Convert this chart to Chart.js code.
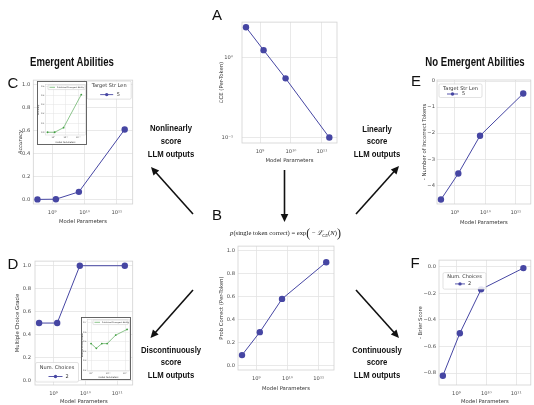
<!DOCTYPE html>
<html>
<head>
<meta charset="utf-8">
<script src="https://cdn.jsdelivr.net/npm/chart.js@4.4.1/dist/chart.umd.min.js"></script>
<style>
  html, body { margin: 0; padding: 0; background: #fff; }
  body { width: 534px; height: 405px; position: relative; overflow: hidden; }
  #stage canvas { position: absolute; }
  #arrows { position: absolute; left: 0; top: 0; }
  .letter { position: absolute; font-family: "Liberation Sans", Arial, sans-serif; font-size: 15px; line-height: 1; transform: translate(-50%, -50%); color: #111; }
  .head { position: absolute; font-family: "Liberation Sans", Arial, sans-serif; font-weight: bold; font-size: 12px; line-height: 1; transform: translate(-50%, -50%) scaleX(0.8); white-space: nowrap; color: #111; }
  .note { position: absolute; font-family: "Liberation Sans", Arial, sans-serif; font-weight: bold; font-size: 9.8px; line-height: 12.8px; text-align: center; transform: translate(-50%, -50%) scaleX(0.79); white-space: nowrap; color: #111; }
  .formula { position: absolute; font-family: "Liberation Serif", "DejaVu Serif", serif; font-size: 6.6px; transform: translate(-50%, -50%); white-space: nowrap; color: #222; }
  .formula .paren { font-size: 12px; vertical-align: -1.5px; }
  .formula sub { font-size: 4.5px; }
</style>
</head>
<body>
<div id="stage"></div>
<svg id="arrows" width="534" height="405"></svg>

<div class="head" style="left:72px;top:62px">Emergent Abilities</div>
<div class="head" style="left:475px;top:62px">No Emergent Abilities</div>

<div class="letter" style="left:217px;top:14px">A</div>
<div class="letter" style="left:217px;top:214px">B</div>
<div class="letter" style="left:13px;top:82px">C</div>
<div class="letter" style="left:13px;top:263px">D</div>
<div class="letter" style="left:416px;top:80px">E</div>
<div class="letter" style="left:415px;top:262px">F</div>

<div class="note" style="left:171px;top:141px">Nonlinearly<br>score<br>LLM outputs</div>
<div class="note" style="left:376.5px;top:141.5px">Linearly<br>score<br>LLM outputs</div>
<div class="note" style="left:171px;top:362.5px">Discontinuously<br>score<br>LLM outputs</div>
<div class="note" style="left:376.5px;top:362.5px">Continuously<br>score<br>LLM outputs</div>

<div class="formula" style="left:285.5px;top:233px"><i>p</i>(single token correct) = exp<span class="paren">(</span> − <i>ℒ</i><sub><i>CE</i></sub>(<i>N</i>)<span class="paren">)</span></div>

<script>
// Model sizes shared by every main panel (x axis)
const modelParams = [3.5e8, 1.3e9, 6.7e9, 1.75e11];

// Panel series
const crossEntropy = [2.4, 1.24, 0.55, 0.1];          // A
const probCorrect = [0.09, 0.29, 0.58, 0.9];           // B
const accuracy = [0.0, 0.002, 0.066, 0.61];            // C
const multipleChoiceGrade = [0.5, 0.5, 1.0, 1.0];      // D
const negIncorrectTokens = [-4.55, -3.55, -2.1, -0.48]; // E
const negBrierScore = [-0.82, -0.5, -0.17, -0.01];      // F

// Inset series (published emergent abilities)
const insetCParams = [3.5e8, 1.3e9, 6.7e9, 1.75e11];
const insetCAccuracy = [0.0, 0.0, 0.05, 0.41];
const insetDParams = [1e9, 2.05e9, 4.3e9, 8.8e9, 2.8e10, 1.3e11];
const insetDGrade = [0.48, 0.43, 0.48, 0.48, 0.57, 0.63];

// Tick values
const paramTicks = [1e9, 1e10, 1e11];
const lossTicks = [0.1, 1];
const unitTicks = [0, 0.2, 0.4, 0.6, 0.8, 1.0];
const tokenTicks = [-4, -3, -2, -1, 0];
const brierTicks = [-0.8, -0.6, -0.4, -0.2, 0];
const insetCTicks = [0, 0.1, 0.2, 0.3, 0.4, 0.5];
const insetDTicks = [0.2, 0.3, 0.4, 0.5, 0.6, 0.7];

const FONT = '"DejaVu Sans", sans-serif';
const BLUE = '#4646a3';
const GREEN = '#3f9d3f';
const GRID = '#e3e3e3';
const TICK = '#4a4a4a';

const SUP = { '0': '⁰', '1': '¹', '2': '²', '3': '³', '4': '⁴', '5': '⁵', '6': '⁶', '7': '⁷', '8': '⁸', '9': '⁹', '-': '⁻' };
function powLabel(v) {
  const p = String(Math.round(Math.log10(v)));
  return '10' + p.split('').map(c => SUP[c]).join('');
}
const minus = s => s.replace('-', '−');

// full box round the plot area (seaborn style spines)
const framePlugin = {
  id: 'frame',
  beforeDraw(chart, args, o) {
    if (!o.inset) return;
    const ctx = chart.ctx;
    ctx.save();
    ctx.fillStyle = '#fff';
    ctx.fillRect(0, 0, chart.width, chart.height);
    ctx.restore();
  },
  beforeDatasetsDraw(chart, args, o) {
    const a = chart.chartArea, ctx = chart.ctx;
    ctx.save();
    ctx.strokeStyle = o.color || '#d2d2d2';
    ctx.lineWidth = o.width || 0.8;
    ctx.strokeRect(a.left, a.top, a.right - a.left, a.bottom - a.top);
    ctx.restore();
  },
  afterDraw(chart, args, o) {
    if (!o.inset) return;
    const ctx = chart.ctx;
    ctx.save();
    ctx.strokeStyle = '#555';
    ctx.lineWidth = 0.9;
    ctx.strokeRect(0.5, 0.5, chart.width - 1, chart.height - 1);
    ctx.restore();
  }
};

// matplotlib-like framed legend with optional title
const boxLegendPlugin = {
  id: 'boxLegend',
  afterDraw(chart, args, o) {
    if (!o.show) return;
    const a = chart.chartArea, ctx = chart.ctx;
    const x = o.anchor.includes('r') ? a.right - o.dx - o.w : a.left + o.dx;
    const y = o.anchor.includes('b') ? a.bottom - o.dy - o.h : a.top + o.dy;
    const color = chart.data.datasets[0].borderColor;
    ctx.save();
    ctx.beginPath();
    ctx.roundRect(x, y, o.w, o.h, o.radius);
    ctx.fillStyle = 'rgba(255,255,255,0.85)';
    ctx.fill();
    ctx.strokeStyle = o.border;
    ctx.lineWidth = 0.6;
    ctx.stroke();
    ctx.font = o.size + 'px ' + FONT;
    ctx.textBaseline = 'middle';
    ctx.fillStyle = '#333';
    if (o.title) {
      ctx.textAlign = 'center';
      ctx.fillText(o.title, x + o.w / 2, y + o.titleY);
    }
    const iy = y + o.itemY;
    ctx.strokeStyle = color;
    ctx.lineWidth = o.lw;
    ctx.beginPath();
    ctx.moveTo(x + o.sx0, iy);
    ctx.lineTo(x + o.sx1, iy);
    ctx.stroke();
    ctx.fillStyle = color;
    ctx.beginPath();
    ctx.arc(x + (o.sx0 + o.sx1) / 2, iy, o.mr, 0, Math.PI * 2);
    ctx.fill();
    ctx.fillStyle = '#333';
    ctx.textAlign = 'left';
    ctx.fillText(o.label, x + o.lx, iy);
    ctx.restore();
  }
};

function makePanel(box, area, c) {
  const stage = document.getElementById('stage');
  const canvas = document.createElement('canvas');
  const w = box[2] - box[0], h = box[3] - box[1];
  canvas.width = w;
  canvas.height = h;
  canvas.style.left = box[0] + 'px';
  canvas.style.top = box[1] + 'px';
  canvas.style.width = w + 'px';
  canvas.style.height = h + 'px';
  stage.appendChild(canvas);

  const yW = area[0] - box[0];
  const xH = box[3] - area[3];
  const tickFont = { family: FONT, size: c.tickSize };
  const titleFont = { family: FONT, size: c.titleSize };

  new Chart(canvas, {
    type: 'line',
    data: {
      datasets: [{
        data: c.x.map((x, i) => ({ x, y: c.y[i] })),
        borderColor: c.color,
        backgroundColor: c.color,
        borderWidth: c.lw,
        pointRadius: c.r,
        pointHoverRadius: c.r,
        pointBorderWidth: 0,
        tension: 0,
        clip: false
      }]
    },
    options: {
      responsive: false,
      animation: false,
      events: [],
      layout: { padding: { left: 0, bottom: 0, top: area[1] - box[1], right: box[2] - area[2] } },
      plugins: {
        legend: { display: false },
        tooltip: { enabled: false },
        frame: { inset: !!c.inset, color: c.frameColor, width: c.gw },
        boxLegend: c.legend || { show: false }
      },
      scales: {
        x: {
          type: 'logarithmic',
          min: c.xMin,
          max: c.xMax,
          afterBuildTicks: s => { s.ticks = c.xTicks.map(v => ({ value: v })); },
          afterFit: s => { s.height = xH; },
          grid: { color: GRID, lineWidth: c.gw, drawTicks: false },
          border: { display: false },
          ticks: { callback: v => powLabel(v), font: tickFont, color: TICK, padding: c.xPad, maxRotation: 0, autoSkip: false },
          title: { display: true, text: 'Model Parameters', font: titleFont, color: '#333', padding: { top: 0, bottom: c.xTitlePad || 0 } }
        },
        y: {
          type: c.yType || 'linear',
          min: c.yMin,
          max: c.yMax,
          afterBuildTicks: s => { s.ticks = c.yTicks.map(v => ({ value: v })); },
          afterFit: s => { s.width = yW; },
          grid: { color: GRID, lineWidth: c.gw, drawTicks: false },
          border: { display: false },
          ticks: { callback: c.yFmt, font: tickFont, color: TICK, padding: c.yPad, autoSkip: false },
          title: { display: true, text: c.yTitle, font: Object.assign({ style: c.yTitleStyle || 'normal' }, titleFont), color: '#333', padding: 0 }
        }
      }
    },
    plugins: [framePlugin, boxLegendPlugin]
  });
}

const fixed1 = v => minus(v.toFixed(1));
const mainStyle = {
  x: modelParams, xMin: 2.6e8, xMax: 3.1e11, xTicks: paramTicks,
  color: BLUE, lw: 1, r: 3.2, gw: 0.8, tickSize: 5.2, titleSize: 5.3, xPad: 5.5, yPad: 3
};
const legendBase = { show: true, radius: 1.5, border: '#cfcfcf', size: 5, lw: 0.9, mr: 1.7 };

// A: cross entropy (log)
makePanel([218, 10, 345, 164], [242, 16, 337, 143], Object.assign({}, mainStyle, {
  y: crossEntropy, yType: 'logarithmic', yMin: 0.0855, yMax: 2.78, yTicks: lossTicks,
  yFmt: v => powLabel(v), yPad: 9, yTitle: 'ℒCE (Per-Token)'
}));

// B: per-token probability correct
makePanel([218, 240, 345, 392], [238, 244.5, 334, 370], Object.assign({}, mainStyle, {
  y: probCorrect, yMin: -0.04, yMax: 1.04, yTicks: unitTicks, yFmt: fixed1,
  yTitle: 'Prob Correct (Per-Token)'
}));

// C: accuracy
makePanel([17, 74, 140, 225], [33.3, 80, 132.7, 204], Object.assign({}, mainStyle, {
  y: accuracy, yMin: -0.04, yMax: 1.04, yTicks: unitTicks, yFmt: fixed1,
  yTitle: 'Accuracy', yTitleStyle: 'italic',
  legend: Object.assign({}, legendBase, { anchor: 'tr', dx: 1.5, dy: 1, w: 44, h: 18, title: 'Target Str Len', label: '5', titleY: 5, itemY: 13.5, sx0: 13, sx1: 26, lx: 29.5 })
}));

// D: multiple choice grade
makePanel([14, 254, 140, 405], [35, 259.3, 132.7, 385], Object.assign({}, mainStyle, {
  y: multipleChoiceGrade, yMin: -0.04, yMax: 1.04, yTicks: unitTicks, yFmt: fixed1, yPad: 4,
  yTitle: 'Multiple Choice Grade',
  legend: Object.assign({}, legendBase, { anchor: 'bl', dx: 0.5, dy: 3, w: 43, h: 19.5, title: 'Num. Choices', label: '2', titleY: 5, itemY: 14, sx0: 13, sx1: 27, lx: 30 })
}));

// E: number of incorrect tokens
makePanel([421, 74, 534, 226], [437, 80, 534, 204], Object.assign({}, mainStyle, {
  y: negIncorrectTokens, yMin: -4.72, yMax: 0.04, yTicks: tokenTicks, yFmt: v => minus(String(v)), yPad: 2,
  yTitle: '- Number of Incorrect Tokens',
  legend: Object.assign({}, legendBase, { anchor: 'tl', dx: 2, dy: 4, w: 43, h: 13.5, title: 'Target Str Len', label: '5', titleY: 4.3, itemY: 10, sx0: 8, sx1: 19, lx: 23 })
}));

// F: brier score
makePanel([417, 254, 534, 405], [439, 260, 534, 385], Object.assign({}, mainStyle, {
  y: negBrierScore, yMin: -0.89, yMax: 0.05, yTicks: brierTicks, yFmt: fixed1,
  yTitle: '- Brier Score',
  legend: Object.assign({}, legendBase, { anchor: 'tl', dx: 4, dy: 12.5, w: 43, h: 16.5, title: 'Num. Choices', label: '2', titleY: 4.3, itemY: 11.3, sx0: 12, sx1: 22, lx: 25 })
}));

// Insets
const insetStyle = {
  inset: true, color: GREEN, lw: 0.6, r: 0.9, gw: 0.5, tickSize: 2.2, titleSize: 2.2,
  xPad: 1.2, yPad: 1, xTicks: paramTicks, yFmt: fixed1, xTitlePad: 1.5
};
const insetLegend = { show: true, radius: 0.6, border: '#cfcfcf', size: 2, lw: 0.6, mr: 0, titleY: 0, itemY: 2.3, sx0: 1.5, sx1: 7, lx: 9 };

makePanel([37, 81, 87, 145], [45.5, 84.5, 85.5, 135], Object.assign({}, insetStyle, {
  x: insetCParams, y: insetCAccuracy, xMin: 2.4e8, xMax: 3.8e11,
  yMin: -0.03, yMax: 0.52, yTicks: insetCTicks, yTitle: 'Accuracy',
  legend: Object.assign({}, insetLegend, { anchor: 'tl', dx: 2.5, dy: 0.5, w: 37, h: 4.6, label: 'Published Emergent Ability' })
}));

makePanel([81, 317, 131, 380], [87.5, 319.5, 129.5, 371], Object.assign({}, insetStyle, {
  x: insetDParams, y: insetDGrade, xMin: 6.2e8, xMax: 1.8e11,
  yMin: 0.19, yMax: 0.735, yTicks: insetDTicks, yTitle: 'Multiple Choice Grade',
  legend: Object.assign({}, insetLegend, { anchor: 'tl', dx: 5.5, dy: 0.5, w: 35, h: 4.6, label: 'Published Emergent Ability' })
}));

// Arrows between panels
const arrows = [
  [193, 214, 151, 167],
  [356, 214, 399, 166],
  [193, 290, 150.5, 338],
  [356, 290, 399, 338],
  [284.5, 170, 284.5, 222]
];
const svg = document.getElementById('arrows');
const NS = 'http://www.w3.org/2000/svg';
arrows.forEach(([x1, y1, x2, y2]) => {
  const dx = x2 - x1, dy = y2 - y1, len = Math.hypot(dx, dy);
  const ux = dx / len, uy = dy / len;
  const hl = 8, hw = 3.8;
  const bx = x2 - ux * hl, by = y2 - uy * hl;
  const line = document.createElementNS(NS, 'line');
  line.setAttribute('x1', x1); line.setAttribute('y1', y1);
  line.setAttribute('x2', bx + ux); line.setAttribute('y2', by + uy);
  line.setAttribute('stroke', '#111'); line.setAttribute('stroke-width', '1.6');
  svg.appendChild(line);
  const head = document.createElementNS(NS, 'polygon');
  head.setAttribute('points', [
    x2 + ',' + y2,
    (bx - uy * hw) + ',' + (by + ux * hw),
    (bx + uy * hw) + ',' + (by - ux * hw)
  ].join(' '));
  head.setAttribute('fill', '#111');
  svg.appendChild(head);
});
</script>
</body>
</html>
